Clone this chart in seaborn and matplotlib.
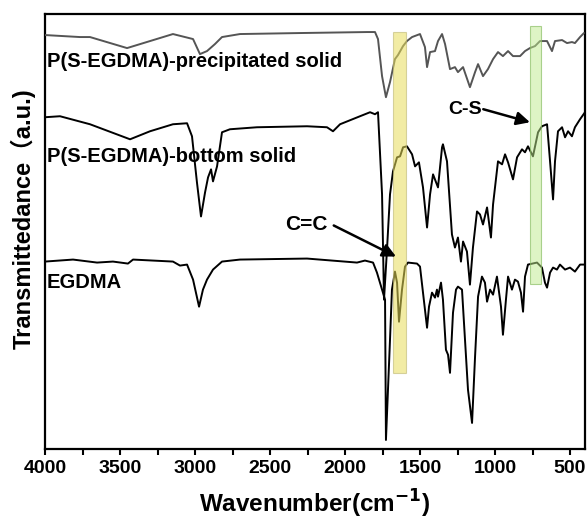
import numpy as np
import pandas as pd
import matplotlib
matplotlib.use("Agg")
import matplotlib.pyplot as plt
from matplotlib.ticker import MultipleLocator
from matplotlib.patches import Rectangle
import seaborn as sns

# ---------------- data (wavenumber cm-1, transmittance a.u.) ----------------
prec_wn = [4000, 3767, 3700, 3453, 3147, 3013, 2967, 2920, 2867, 2820, 2700, 2300,
           1853, 1800, 1780, 1753, 1727, 1700, 1667, 1647, 1613, 1587, 1553, 1500,
           1467, 1453, 1433, 1400, 1380, 1353, 1333, 1300, 1267, 1247, 1213, 1167,
           1133, 1113, 1080, 1047, 1013, 980, 947, 913, 880, 833, 800, 767, 733,
           700, 653, 620, 600, 553, 520, 487, 467, 433, 407]
prec_T = [413, 411, 411, 400, 414, 409, 394, 397, 404, 411, 414, 415,
          416, 416, 409, 372, 351, 366, 389, 393, 402, 407, 411, 414,
          401, 381, 396, 397, 407, 414, 404, 379, 381, 376, 381, 361,
          376, 384, 372, 379, 389, 396, 392, 397, 392, 392, 397, 400, 402,
          407, 407, 397, 407, 408, 405, 406, 405, 411, 415]

bott_wn = [4000, 3900, 3700, 3433, 3300, 3147, 3053, 3020, 2987, 2960, 2933, 2913,
           2893, 2880, 2853, 2820, 2767, 2587, 2253, 2120, 2080, 2033, 1900, 1833,
           1800, 1780, 1753, 1740, 1720, 1700, 1680, 1653, 1633, 1613, 1587, 1553,
           1533, 1507, 1480, 1453, 1433, 1413, 1380, 1353, 1347, 1320, 1287, 1267,
           1247, 1227, 1213, 1187, 1167, 1147, 1120, 1100, 1080, 1053, 1027, 1013,
           980, 953, 933, 913, 880, 853, 820, 800, 780, 747, 713, 687, 653, 633,
           613, 600, 580, 553, 533, 513, 487, 467, 433, 400]
bott_T = [331, 332, 324, 309, 317, 324, 325, 312, 266, 232, 256, 271,
          279, 267, 282, 316, 319, 321, 322, 321, 317, 324, 332, 336,
          334, 336, 254, 149, 199, 254, 277, 291, 292, 301, 302, 294,
          282, 286, 261, 221, 254, 274, 261, 301, 304, 287, 214, 201,
          211, 187, 207, 197, 164, 201, 237, 234, 224, 241, 211, 244,
          287, 284, 294, 286, 269, 291, 299, 296, 302, 292, 316, 322, 324, 287,
          249, 287, 317, 321, 311, 317, 312, 321, 329, 336]

egd_wn = [4000, 3813, 3653, 3547, 3447, 3413, 3147, 3100, 3053, 3013, 2973, 2947,
          2920, 2880, 2820, 2700, 2253, 1920, 1867, 1813, 1787, 1753, 1733, 1727,
          1700, 1687, 1667, 1653, 1640, 1620, 1600, 1580, 1520, 1500, 1480, 1453,
          1440, 1420, 1400, 1387, 1380, 1360, 1347, 1327, 1313, 1300, 1280, 1260,
          1247, 1220, 1200, 1180, 1153, 1133, 1113, 1087, 1067, 1053, 1033, 1013,
          987, 960, 947, 927, 913, 887, 867, 847, 827, 813, 800, 780, 720, 687,
          667, 653, 633, 613, 587, 567, 533, 500, 467, 433, 407]
egd_T = [187, 189, 186, 187, 185, 189, 187, 183, 184, 169, 142, 159,
         169, 179, 187, 189, 190, 186, 188, 186, 176, 159, 149, 9,
         109, 159, 177, 166, 127, 159, 182, 186, 185, 182, 156, 121,
         142, 156, 151, 159, 152, 166, 149, 99, 94, 76, 136, 159,
         162, 159, 109, 59, 26, 92, 152, 172, 166, 147, 159, 154,
         172, 142, 114, 149, 172, 159, 169, 167, 156, 137, 172, 184, 186, 181,
         166, 161, 176, 181, 179, 184, 179, 181, 177, 184, 184]

series_names = ["P(S-EGDMA)-precipitated solid", "P(S-EGDMA)-bottom solid", "EGDMA"]
series_colors = ["#555555", "#000000", "#000000"]

# highlight bands (wavenumber range, transmittance range)
band_yellow_wn = [1593, 1680]
band_yellow_T = [76, 416]
band_green_wn = [693, 767]
band_green_T = [165, 422]

# ---------------- figure ----------------
sns.set_style("ticks")
plt.rcParams["font.family"] = ["Liberation Sans", "Noto Sans CJK SC", "DejaVu Sans"]
plt.rcParams["font.weight"] = "bold"
plt.rcParams["axes.labelweight"] = "bold"
plt.rcParams["text.color"] = "black"
plt.rcParams["axes.labelcolor"] = "black"
plt.rcParams["xtick.color"] = "black"
plt.rcParams["ytick.color"] = "black"

fig = plt.figure(figsize=(5.87, 5.26), dpi=100)
ax = fig.add_axes([45 / 587, 1 - 449 / 526, 540 / 587, 435 / 526])

frames = []
for name, wn, T in zip(series_names, [prec_wn, bott_wn, egd_wn], [prec_T, bott_T, egd_T]):
    frames.append(pd.DataFrame({"wn": wn, "T": T, "s": name}))
df = pd.concat(frames, ignore_index=True)

for name, col in zip(series_names, series_colors):
    sub = df[df["s"] == name]
    sns.lineplot(data=sub, x="wn", y="T", ax=ax, color=col, lw=1.4,
                 estimator=None, sort=True, zorder=3)

# bands over the lines
ax.add_patch(Rectangle((band_yellow_wn[0], band_yellow_T[0]),
                       band_yellow_wn[1] - band_yellow_wn[0],
                       band_yellow_T[1] - band_yellow_T[0],
                       facecolor=(0.91, 0.87, 0.35, 0.55), edgecolor=(0.75, 0.72, 0.45, 0.6),
                       lw=0.8, zorder=4))
ax.add_patch(Rectangle((band_green_wn[0], band_green_T[0]),
                       band_green_wn[1] - band_green_wn[0],
                       band_green_T[1] - band_green_T[0],
                       facecolor=(0.75, 0.92, 0.55, 0.5), edgecolor=(0.55, 0.75, 0.4, 0.7),
                       lw=0.8, zorder=4))

# series labels
label_T = [381, 286, 161]
for name, yT in zip(series_names, label_T):
    ax.text(3987, yT, name, fontsize=14.5, fontweight="bold", ha="left",
            va="baseline", color="black", zorder=5)

# annotations
ax.text(2260, 218, "C=C", fontsize=15, fontweight="bold", ha="center", va="baseline",
        color="black", zorder=5)
ax.annotate("", xy=(1660, 192), xytext=(2075, 223),
            arrowprops=dict(arrowstyle="-|>", lw=1.8, color="black", mutation_scale=20,
                            shrinkA=0, shrinkB=0), zorder=5)
ax.text(1200, 334, "C-S", fontsize=14, fontweight="bold", ha="center", va="baseline",
        color="black", zorder=5)
ax.annotate("", xy=(767, 326), xytext=(1078, 339),
            arrowprops=dict(arrowstyle="-|>", lw=1.8, color="black", mutation_scale=20,
                            shrinkA=0, shrinkB=0), zorder=5)

ax.set_xlim(4000, 400)
ax.set_ylim(0, 434)
ax.xaxis.set_major_locator(MultipleLocator(500))
ax.xaxis.set_minor_locator(MultipleLocator(250))
ax.set_yticks([])
ax.tick_params(axis="x", which="both", direction="out", length=4, width=1.5,
               labelsize=14, pad=4, colors="black")
for lab in ax.get_xticklabels():
    lab.set_fontweight("bold")
for sp in ax.spines.values():
    sp.set_visible(True)
    sp.set_linewidth(1.6)
    sp.set_color("black")

ax.set_xlabel("Wavenumber(cm$^{\\mathbf{-1}}$)", fontsize=17.5, fontweight="bold",
              labelpad=8, color="black")
ax.set_ylabel("Transmittedance（a.u.)", fontsize=17, fontweight="bold", color="black")
ax.yaxis.set_label_coords(-0.018, 0.53)

fig.savefig("out.png", dpi=100)
